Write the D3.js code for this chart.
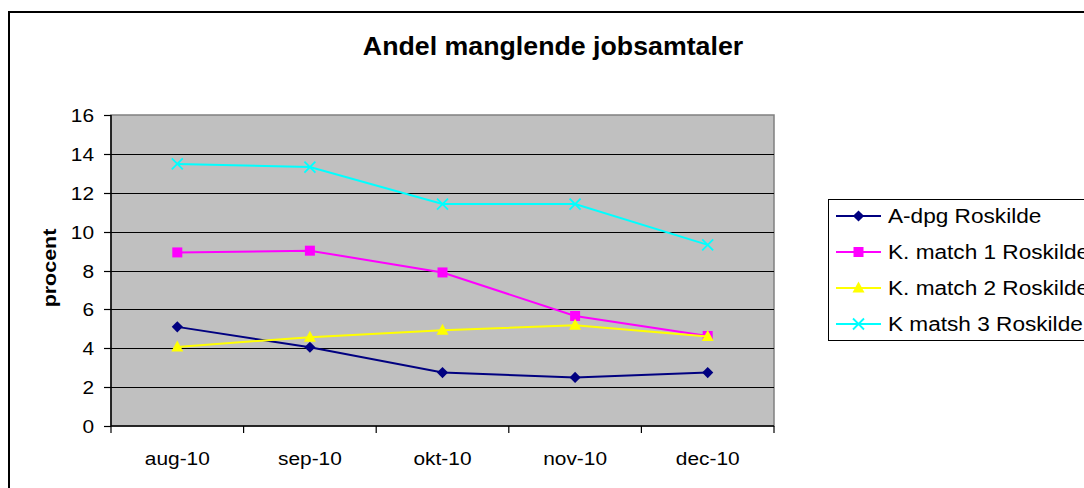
<!DOCTYPE html>
<html>
<head>
<meta charset="utf-8">
<style>
  body { margin: 0; background: #fff; }
  svg text { font-family: "Liberation Sans", Arial, sans-serif; fill: #000; }
</style>
<script src="https://d3js.org/d3.v7.min.js"></script>
</head>
<body>
<svg id="chart" width="1084" height="488"></svg>
<script>
// data
var months = ["aug-10", "sep-10", "okt-10", "nov-10", "dec-10"];
var adpg   = [5.1, 4.05, 2.75, 2.5, 2.75];
var match1 = [8.93, 9.02, 7.9, 5.66, 4.63];
var match2 = [4.07, 4.57, 4.93, 5.18, 4.6];
var match3 = [13.48, 13.32, 11.42, 11.42, 9.32];
var yTicks = [0, 2, 4, 6, 8, 10, 12, 14, 16];

var series = [
  {name: "A-dpg Roskilde",     values: adpg,   color: "#000080", marker: "diamond"},
  {name: "K. match 1 Roskilde", values: match1, color: "#FF00FF", marker: "square"},
  {name: "K. match 2 Roskilde", values: match2, color: "#FFFF00", marker: "triangle"},
  {name: "K matsh 3 Roskilde",  values: match3, color: "#00FFFF", marker: "cross"}
];

var svg = d3.select("#chart");
var plot = {left: 111, top: 115, right: 774, bottom: 426};
var sx = 1.13; // text in the original is a little wide

// outer chart frame
svg.append("rect")
  .attr("x", 9).attr("y", 12)
  .attr("width", 1100).attr("height", 500)
  .attr("fill", "none").attr("stroke", "#000").attr("stroke-width", 2);

// helper for stretched text
function label(g, x, y, txt, opts) {
  opts = opts || {};
  var rot = opts.rotate ? " rotate(" + opts.rotate + ")" : "";
  return g.append("text")
    .attr("transform", "translate(" + x + "," + y + ")" + rot + " scale(" + (opts.sx || sx) + ",1)")
    .attr("text-anchor", opts.anchor || "start")
    .style("font-size", (opts.size || 18) + "px")
    .style("font-weight", opts.bold ? "bold" : "normal")
    .text(txt);
}

var x = d3.scaleBand().domain(months).range([plot.left, plot.right]);
var y = d3.scaleLinear().domain([0, 16]).range([plot.bottom, plot.top]);

// plot background
svg.append("rect")
  .attr("x", plot.left).attr("y", plot.top)
  .attr("width", plot.right - plot.left).attr("height", plot.bottom - plot.top)
  .attr("fill", "#C0C0C0").attr("stroke", "#808080").attr("stroke-width", 1.5);

// gridlines
svg.append("g").selectAll("line").data(yTicks.filter(d => d > 0 && d < 16))
  .enter().append("line")
  .attr("x1", plot.left).attr("x2", plot.right)
  .attr("y1", d => Math.round(y(d)) + 0.5).attr("y2", d => Math.round(y(d)) + 0.5)
  .attr("stroke", "#000").attr("stroke-width", 1.2);

// y axis
var yAxis = svg.append("g");
yAxis.append("line")
  .attr("x1", plot.left).attr("x2", plot.left)
  .attr("y1", plot.top).attr("y2", plot.bottom)
  .attr("stroke", "#000").attr("stroke-width", 1.5);
yTicks.forEach(function(t) {
  var yy = Math.round(y(t)) + 0.5;
  yAxis.append("line")
    .attr("x1", plot.left - 7).attr("x2", plot.left)
    .attr("y1", yy).attr("y2", yy)
    .attr("stroke", "#000").attr("stroke-width", 1.2);
  label(yAxis, 94, yy + 6.5, t, {anchor: "end", size: 18.5});
});

// x axis
var xAxis = svg.append("g");
xAxis.append("line")
  .attr("x1", plot.left).attr("x2", plot.right)
  .attr("y1", plot.bottom).attr("y2", plot.bottom)
  .attr("stroke", "#000").attr("stroke-width", 1.5);
months.concat([null]).forEach(function(m, i) {
  var xx = m ? x(m) : plot.right;
  xAxis.append("line")
    .attr("x1", xx).attr("x2", xx)
    .attr("y1", plot.bottom).attr("y2", plot.bottom + 7)
    .attr("stroke", "#000").attr("stroke-width", 1.2);
});
months.forEach(function(m) {
  label(xAxis, x(m) + x.bandwidth() / 2, 465, m, {anchor: "middle", size: 18.5});
});

// title and axis title
label(svg, 553, 55, "Andel manglende jobsamtaler", {anchor: "middle", size: 25, bold: true, sx: 1.07});
label(svg, 56, 268, "procent", {anchor: "middle", size: 19, bold: true, rotate: -90, sx: 1.13});

// markers
function drawMarker(g, type, cx, cy, color) {
  if (type === "diamond") {
    g.append("path").attr("d", d3.symbol().type(d3.symbolDiamond2).size(60)())
      .attr("transform", "translate(" + cx + "," + cy + ") scale(1.15)")
      .attr("fill", color);
  } else if (type === "square") {
    g.append("rect").attr("x", cx - 5).attr("y", cy - 5)
      .attr("width", 10).attr("height", 10).attr("fill", color);
  } else if (type === "triangle") {
    g.append("path").attr("d", "M" + cx + "," + (cy - 6.5) + "L" + (cx + 6) + "," + (cy + 4.5) + "L" + (cx - 6) + "," + (cy + 4.5) + "Z")
      .attr("fill", color);
  } else {
    g.append("path").attr("d", "M" + (cx - 5.5) + "," + (cy - 5.5) + "L" + (cx + 5.5) + "," + (cy + 5.5) +
        "M" + (cx + 5.5) + "," + (cy - 5.5) + "L" + (cx - 5.5) + "," + (cy + 5.5))
      .attr("stroke", color).attr("stroke-width", 1.8).attr("fill", "none");
  }
}

var line = d3.line()
  .x((d, i) => x(months[i]) + x.bandwidth() / 2)
  .y(d => y(d));

series.forEach(function(s) {
  var g = svg.append("g");
  g.append("path").attr("d", line(s.values))
    .attr("fill", "none").attr("stroke", s.color).attr("stroke-width", 2);
  s.values.forEach(function(v, i) {
    drawMarker(g, s.marker, x(months[i]) + x.bandwidth() / 2, y(v), s.color);
  });
});

// legend
var legend = svg.append("g");
legend.append("rect")
  .attr("x", 828.5).attr("y", 199.5).attr("width", 300).attr("height", 141)
  .attr("fill", "#fff").attr("stroke", "#000").attr("stroke-width", 1);
series.forEach(function(s, i) {
  var ly = 216 + i * 36;
  legend.append("line")
    .attr("x1", 836).attr("x2", 881).attr("y1", ly).attr("y2", ly)
    .attr("stroke", s.color).attr("stroke-width", 2);
  drawMarker(legend, s.marker, 858.5, ly, s.color);
  label(legend, 888, ly + 7, s.name, {size: 19.5, sx: 1.16});
});
</script>
</body>
</html>
